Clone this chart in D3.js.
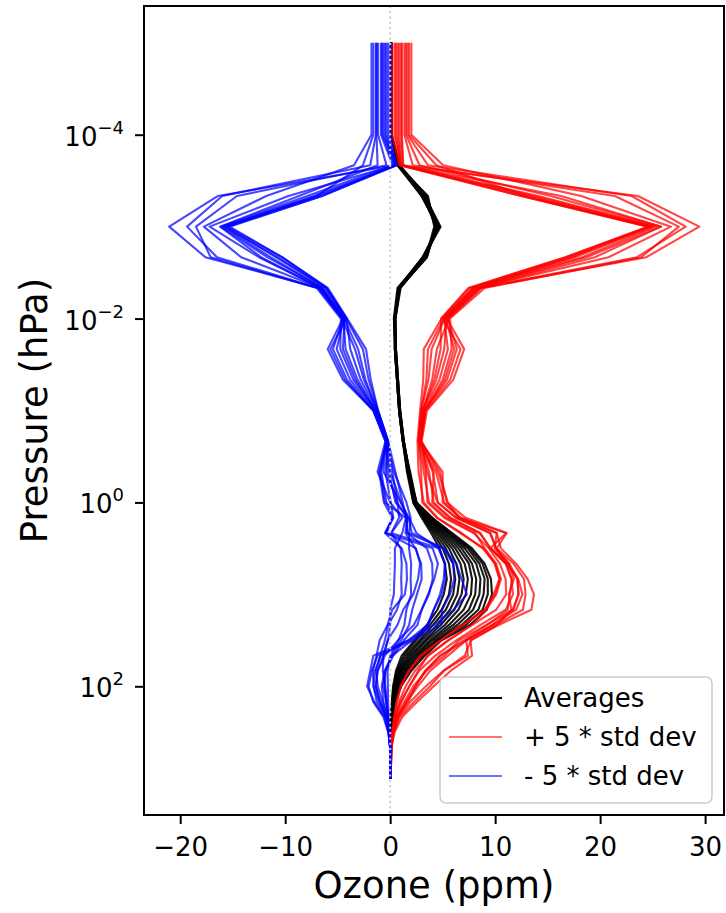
<!DOCTYPE html>
<html>
<head>
<meta charset="utf-8">
<script src="https://cdn.jsdelivr.net/npm/d3@7"></script>
<style>
  html, body { margin: 0; padding: 0; background: #fff; }
  svg { display: block; font-family: "DejaVu Sans", sans-serif; }
</style>
</head>
<body>
<svg id="chart" width="726" height="913"></svg>
<script>
// Pressure levels (hPa), from the top of the model down to the surface
const pressure = [1e-5, 1e-4, 2.15e-4, 4.64e-4, 1e-3, 2.15e-3, 4.64e-3, 0.01, 0.0215, 0.0464,
  0.1, 0.215, 0.464, 1, 1.47, 2.15, 3.16, 4.64, 6.81, 10, 14.7, 21.5, 31.6, 46.4, 68.1,
  100, 147, 215, 316, 464, 1000];

// Mean ozone mixing ratio (ppm) of each profile, one value per pressure level
const averages = [
  [0.1,0.1,0.7,3.0,4.5,3.2,0.8,0.4,0.45,0.65,0.85,1.2,1.6, 2.2,3.0,3.9,4.7,5.2,5.4,5.1,4.5,3.5,2.3,1.1,0.55,0.28,0.16,0.1,0.06,0.04,0.03],
  [0.12,0.12,0.75,3.1,4.4,3.3,0.9,0.45,0.5,0.7,0.9,1.25,1.7, 2.2,3.1,4.1,5.0,5.6,5.8,5.6,4.9,3.8,2.5,1.3,0.65,0.32,0.18,0.11,0.06,0.04,0.03],
  [0.1,0.1,0.8,3.2,4.6,3.1,0.8,0.4,0.45,0.65,0.85,1.2,1.65, 2.3,3.2,4.3,5.3,6.0,6.2,6.0,5.3,4.1,2.8,1.5,0.75,0.38,0.2,0.12,0.07,0.04,0.03],
  [0.12,0.12,0.7,3.6,4.2,3.4,0.9,0.5,0.55,0.75,0.95,1.3,1.8, 2.3,3.3,4.5,5.6,6.3,6.6,6.4,5.7,4.5,3.0,1.7,0.85,0.42,0.22,0.13,0.07,0.04,0.03],
  [0.1,0.1,0.85,3.0,4.7,3.2,0.7,0.35,0.5,0.7,0.9,1.25,1.7, 2.3,3.4,4.7,5.9,6.7,7.0,6.8,6.1,4.8,3.3,1.9,0.95,0.48,0.25,0.14,0.08,0.05,0.03],
  [0.14,0.14,0.8,3.3,4.3,3.5,0.9,0.45,0.45,0.65,0.85,1.2,1.75, 2.4,3.5,4.9,6.2,7.1,7.4,7.2,6.5,5.2,3.5,2.1,1.05,0.52,0.27,0.15,0.08,0.05,0.03],
  [0.12,0.12,0.75,3.1,4.6,3.3,0.8,0.4,0.5,0.7,0.9,1.25,1.7, 2.4,3.6,5.1,6.5,7.5,7.8,7.7,7.0,5.6,3.8,2.3,1.15,0.58,0.3,0.16,0.09,0.05,0.03],
  [0.1,0.1,0.9,3.4,4.5,3.4,1.0,0.5,0.55,0.75,0.95,1.3,1.85, 2.4,3.7,5.3,6.8,7.8,8.2,8.1,7.5,6.0,4.0,2.5,1.3,0.64,0.32,0.18,0.09,0.05,0.03],
  [0.1,0.1,0.8,3.3,4.8,3.2,0.8,0.45,0.5,0.7,0.9,1.25,1.75, 2.5,3.8,5.5,7.1,8.2,8.6,8.5,7.9,6.4,4.3,2.7,1.45,0.7,0.35,0.19,0.1,0.05,0.03],
  [0.14,0.14,0.85,3.5,4.4,3.5,0.9,0.5,0.45,0.65,0.85,1.2,1.9, 2.5,3.9,5.6,7.4,8.5,9.0,8.9,8.4,6.8,4.5,2.9,1.6,0.8,0.38,0.2,0.1,0.06,0.03],
  [0.1,0.1,0.9,3.0,4.6,3.1,0.8,0.4,0.5,0.7,0.9,1.25,1.7, 2.5,4.0,5.8,7.6,8.8,9.3,9.3,8.8,7.2,4.7,3.1,1.8,0.9,0.42,0.22,0.11,0.06,0.03],
  [0.12,0.12,0.8,3.2,4.5,3.3,0.9,0.45,0.55,0.75,0.95,1.3,1.8, 2.5,4.0,5.9,7.8,9.0,9.6,9.7,9.2,7.6,4.9,3.3,2.0,1.05,0.48,0.25,0.12,0.06,0.03]
];

// Standard deviation (ppm) of each profile, same layout as the averages
const stdDevs = [
  [0.02,0.02,0.03,1.9,4.0,2.7,1.35,0.9,0.55,0.5,0.4,0.28,0.22, 0.2,0.3,0.55,0.85,0.95,1.0,0.95,0.9,0.7,0.5,0.35,0.25,0.15,0.1,0.06,0.03,0.01,0.005],
  [0.06,0.06,0.05,2.0,4.05,2.8,1.4,0.93,0.62,0.55,0.41,0.29,0.3, 0.3,0.45,0.8,0.8,0.9,0.95,0.9,0.85,0.8,0.6,0.45,0.4,0.3,0.18,0.08,0.04,0.01,0.005],
  [0.09,0.09,0.04,2.1,4.1,2.9,1.45,0.96,0.7,0.6,0.42,0.3,0.26, 0.15,0.25,0.5,0.7,0.8,0.85,0.8,0.75,0.55,0.4,0.3,0.2,0.12,0.08,0.05,0.03,0.01,0.005],
  [0.12,0.12,0.06,4.0,5.05,4.2,1.55,1.02,0.78,0.65,0.43,0.3,0.45, 0.45,0.6,1.0,0.9,0.95,1.0,1.0,1.1,0.95,0.8,0.6,0.5,0.4,0.3,0.12,0.05,0.01,0.005],
  [0.15,0.15,0.05,1.9,4.0,2.7,1.35,0.9,0.86,0.7,0.44,0.31,0.34, 0.25,0.35,0.65,0.7,0.75,0.8,0.85,0.8,0.6,0.45,0.35,0.28,0.2,0.12,0.06,0.03,0.01,0.005],
  [0.18,0.18,0.08,2.6,4.3,3.2,1.5,0.98,0.94,0.75,0.45,0.31,0.52, 0.55,0.65,1.05,0.75,0.85,0.95,1.0,1.05,0.9,0.75,0.55,0.45,0.38,0.25,0.1,0.04,0.01,0.005],
  [0.2,0.2,0.1,2.2,4.15,3.0,1.45,0.95,1.0,0.8,0.46,0.32,0.4, 0.35,0.4,0.7,0.6,0.7,0.75,0.8,0.8,0.6,0.5,0.4,0.32,0.25,0.14,0.06,0.03,0.01,0.005],
  [0.25,0.25,0.25,3.6,4.6,4.1,1.6,1.04,1.06,0.85,0.47,0.32,0.58, 0.6,0.7,1.15,0.55,0.65,0.8,0.9,0.9,0.75,0.65,0.6,0.5,0.4,0.25,0.1,0.04,0.01,0.005],
  [0.28,0.28,0.4,2.4,4.2,3.1,1.5,0.97,1.12,0.9,0.48,0.33,0.48, 0.3,0.4,0.6,0.5,0.6,0.7,0.75,0.75,0.55,0.45,0.5,0.4,0.3,0.2,0.08,0.03,0.01,0.005],
  [0.3,0.3,0.55,3.9,4.75,4.0,1.55,1.0,1.18,0.95,0.49,0.33,0.62, 0.5,0.55,1.1,0.55,0.65,0.75,0.8,0.85,0.65,0.55,0.9,0.7,0.6,0.38,0.15,0.05,0.01,0.005],
  [0.34,0.34,0.7,2.0,4.05,2.8,1.4,0.92,1.24,1.0,0.5,0.34,0.36, 0.4,0.45,0.75,0.5,0.5,0.5,0.4,0.55,0.6,0.6,0.8,0.65,0.5,0.3,0.12,0.04,0.01,0.005],
  [0.38,0.38,0.85,3.0,4.45,3.5,1.5,0.99,1.3,1.05,0.51,0.34,0.55, 0.6,0.5,0.85,0.55,0.6,0.7,0.8,0.85,0.55,0.55,0.9,0.75,0.62,0.42,0.18,0.06,0.01,0.005]
];

const stdFactor = 5;
const xTicks = [-20, -10, 0, 10, 20, 30];
const yTickExponents = [-4, -2, 0, 2];
const legendLabels = ["Averages", "+ 5 * std dev", "- 5 * std dev"];

// ---- layout ----
const plot = { left: 144, right: 724, top: 6, bottom: 815 };
const svg = d3.select("#chart");

const x = d3.scaleLinear().domain([-23.45, 31.8]).range([plot.left, plot.right]);
const y = d3.scaleLog().domain([Math.pow(10, -5.4), Math.pow(10, 3.4)]).range([plot.top, plot.bottom]);

const line = d3.line()
  .x(d => x(d.v))
  .y(d => y(d.p));

// Each profile as a list of {p, v} points
const toPoints = values => values.map((v, i) => ({ p: pressure[i], v }));
const avgSeries = averages.map(toPoints);
const plusSeries = averages.map((row, k) => toPoints(row.map((a, i) => a + stdFactor * stdDevs[k][i])));
const minusSeries = averages.map((row, k) => toPoints(row.map((a, i) => a - stdFactor * stdDevs[k][i])));

const groups = [
  { data: avgSeries, color: "#000000", opacity: 0.9, legendOpacity: 1 },
  { data: plusSeries, color: "#ff0000", opacity: 0.72, legendOpacity: 0.55 },
  { data: minusSeries, color: "#0000ff", opacity: 0.72, legendOpacity: 0.55 }
];

const lines = svg.append("g");
groups.forEach(g => {
  lines.append("g")
    .selectAll("path")
    .data(g.data)
    .join("path")
    .attr("d", line)
    .attr("fill", "none")
    .attr("stroke", g.color)
    .attr("stroke-opacity", g.opacity)
    .attr("stroke-width", 2.1)
    .attr("stroke-linejoin", "round");
});

// Zero reference line
svg.append("line")
  .attr("x1", x(0)).attr("x2", x(0))
  .attr("y1", plot.top).attr("y2", plot.bottom)
  .attr("stroke", "#cfcfcf")
  .attr("stroke-width", 2)
  .attr("stroke-dasharray", "2,3.3");

// ---- axes ----
const xAxis = d3.axisBottom(x)
  .tickValues(xTicks)
  .tickSize(9)
  .tickPadding(14)
  .tickFormat(d3.format("d"));

const gx = svg.append("g")
  .attr("transform", `translate(0,${plot.bottom})`)
  .call(xAxis);
gx.select(".domain").remove();
gx.selectAll(".tick line").attr("stroke", "#000").attr("stroke-width", 2);
gx.selectAll(".tick text")
  .attr("fill", "#000")
  .attr("font-size", 26)
  .attr("font-family", "DejaVu Sans, sans-serif");

const yAxis = d3.axisLeft(y)
  .tickValues(yTickExponents.map(e => Math.pow(10, e)))
  .tickSize(9)
  .tickFormat("");
const gy = svg.append("g")
  .attr("transform", `translate(${plot.left},0)`)
  .call(yAxis);
gy.select(".domain").remove();
gy.selectAll(".tick line").attr("stroke", "#000").attr("stroke-width", 2);

// Power-of-ten tick labels with superscript exponents
const yLabels = svg.append("g").attr("font-size", 26).attr("fill", "#000");
yTickExponents.forEach(e => {
  const t = yLabels.append("text")
    .attr("x", 124)
    .attr("y", y(Math.pow(10, e)) + 11)
    .attr("text-anchor", "end");
  t.append("tspan").text("10");
  t.append("tspan")
    .attr("font-size", 18)
    .attr("dy", -12)
    .text(e < 0 ? "\u2212" + Math.abs(e) : String(e));
});

// Frame
svg.append("rect")
  .attr("x", plot.left).attr("y", plot.top)
  .attr("width", plot.right - plot.left)
  .attr("height", plot.bottom - plot.top)
  .attr("fill", "none")
  .attr("stroke", "#000")
  .attr("stroke-width", 2);

// Axis titles
svg.append("text")
  .attr("x", (plot.left + plot.right) / 2)
  .attr("y", 898)
  .attr("text-anchor", "middle")
  .attr("font-size", 37)
  .text("Ozone (ppm)");

svg.append("text")
  .attr("transform", `translate(47,${(plot.top + plot.bottom) / 2}) rotate(-90)`)
  .attr("text-anchor", "middle")
  .attr("font-size", 37)
  .text("Pressure (hPa)");

// ---- legend ----
const legend = svg.append("g").attr("transform", "translate(440,677)");
legend.append("rect")
  .attr("width", 272).attr("height", 126)
  .attr("rx", 6).attr("ry", 6)
  .attr("fill", "#fff").attr("fill-opacity", 0.8)
  .attr("stroke", "#cccccc").attr("stroke-width", 1.5);

const rowY = [21, 60, 99];
groups.forEach((g, i) => {
  legend.append("line")
    .attr("x1", 9).attr("x2", 62)
    .attr("y1", rowY[i]).attr("y2", rowY[i])
    .attr("stroke", g.color)
    .attr("stroke-opacity", g.legendOpacity)
    .attr("stroke-width", 2);
  legend.append("text")
    .attr("x", 84)
    .attr("y", rowY[i] + 9)
    .attr("font-size", 26)
    .attr("fill", "#000")
    .text(legendLabels[i]);
});
</script>
</body>
</html>
